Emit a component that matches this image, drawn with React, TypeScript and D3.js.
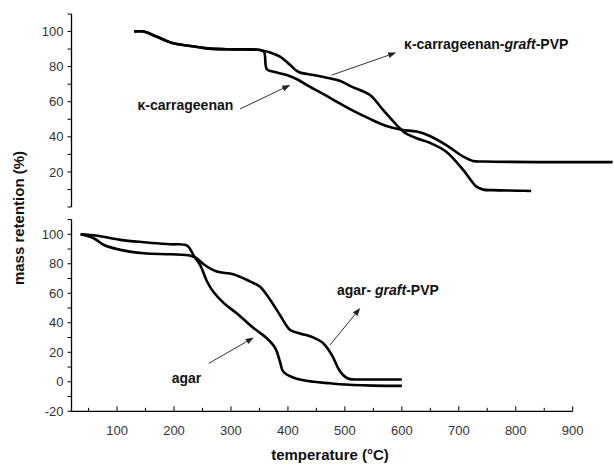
import React from "react";
import * as d3 from "d3";

// ---- Data ----
// Top panel: κ-carrageenan
const kcTemp = [130, 147, 170, 199, 229, 258, 293, 351, 358, 363, 375, 398, 416, 439, 468, 491, 509, 544, 573, 600, 626, 649, 678, 708, 725, 745, 970];
const kcVal = [100, 100, 97, 93.3, 91.8, 90.4, 89.9, 89.5, 88.5, 78.5, 77.1, 75.2, 72.8, 68.4, 63.3, 59, 55.8, 50.2, 46.2, 44, 43, 40.5, 35.3, 28.7, 26.2, 25.9, 25.6];
// Top panel: κ-carrageenan-graft-PVP
const kgTemp = [130, 147, 170, 199, 229, 258, 293, 351, 369, 386, 404, 418, 445, 468, 491, 509, 544, 567, 591, 605, 626, 649, 678, 708, 731, 743, 760, 807, 827];
const kgVal = [100, 100, 97, 93.3, 91.8, 90.4, 89.9, 89.5, 88, 85.7, 80.9, 77.1, 75.2, 73.7, 72, 69, 63.8, 55.3, 46.7, 42.4, 39.2, 36.6, 31.5, 21, 11.6, 9.9, 9.6, 9.3, 9.1];
// Bottom panel: agar
const agarTemp = [36, 65, 106, 147, 193, 223, 234, 246, 258, 269, 287, 310, 340, 363, 378, 386, 392, 410, 445, 474, 491, 550, 600];
const agarVal = [100, 99, 96.2, 94.6, 93.2, 92.3, 85.9, 79.1, 68, 61, 53.5, 46.4, 36.3, 29.5, 22.7, 13.6, 6.8, 2.8, 0, -1, -1.7, -2.6, -2.8];
// Bottom panel: agar-graft-PVP
const agTemp = [36, 59, 77, 106, 147, 194, 229, 240, 252, 275, 304, 334, 351, 369, 386, 404, 421, 445, 462, 477, 490, 500, 509, 530, 600];
const agVal = [100, 97.3, 92.7, 89.4, 87.1, 86.4, 85.5, 83.7, 79.7, 74.7, 72.9, 67.9, 64.5, 55.5, 45.3, 35.1, 32.8, 29.9, 26.1, 18.2, 8, 3.5, 1.8, 1.6, 1.6];

const xTickLabels = [100, 200, 300, 400, 500, 600, 700, 800, 900];
const topYLabels = [20, 40, 60, 80, 100];
const botYLabels = [-20, 0, 20, 40, 60, 80, 100];

const W = 614;
const H = 470;
const FONT = "'Liberation Sans', Arial, sans-serif";

type Ann = { text: string; parts?: { t: string; italic?: boolean }[]; tx: number; ty: number; ax0: number; ay0: number; ax1: number; ay1: number };

const topAnns: Ann[] = [
  { text: "κ-carrageenan", tx: 136, ty: 55.3, ax0: 316, ay0: 55.9, ax1: 404, ay1: 69.5 },
  {
    text: "κ-carrageenan-graft-PVP",
    parts: [{ t: "κ-carrageenan-" }, { t: "graft", italic: true }, { t: "-PVP" }],
    tx: 604, ty: 89.8, ax0: 477, ay0: 75.2, ax1: 590, ay1: 88,
  },
];
const botAnns: Ann[] = [
  { text: "agar", tx: 196, ty: -0.9, ax0: 261, ay0: 12.5, ax1: 340, ay1: 30 },
  {
    text: "agar- graft-PVP",
    parts: [{ t: "agar- " }, { t: "graft", italic: true }, { t: "-PVP" }],
    tx: 486, ty: 58.8, ax0: 474, ay0: 25, ax1: 527, ay1: 50,
  },
];

export default function App() {
  const x = d3.scaleLinear().domain([20, 900]).range([71.5, 572.7]);
  const yTop = d3.scaleLinear().domain([0, 110]).range([207, 14]);
  const yBot = d3.scaleLinear().domain([-20, 110]).range([411.3, 219.5]);

  const mkLine = (ys: d3.ScaleLinear<number, number>) =>
    d3
      .line<[number, number]>()
      .x((d) => x(d[0]))
      .y((d) => ys(d[1]))
      .curve(d3.curveCatmullRom.alpha(0.5));

  const zip = (a: number[], b: number[]) => a.map((v, i) => [v, b[i]] as [number, number]);

  const lineTop = mkLine(yTop);
  const lineBot = mkLine(yBot);

  const x0 = x(20);

  const renderYAxis = (ys: d3.ScaleLinear<number, number>, lo: number, hi: number, labels: number[]) => {
    const ticks = d3.range(lo, hi + 0.001, 10);
    return (
      <g>
        <line x1={x0} x2={x0} y1={ys(hi)} y2={ys(lo)} stroke="#000" strokeWidth={1.3} />
        {ticks.map((t) => (
          <line key={t} x1={x0 - 4} x2={x0} y1={ys(t)} y2={ys(t)} stroke="#000" strokeWidth={1} />
        ))}
        {labels.map((t) => (
          <text key={"l" + t} x={x0 - 8} y={ys(t)} dy="0.36em" textAnchor="end" fontSize={13} fill="#333" fontFamily={FONT}>
            {t}
          </text>
        ))}
      </g>
    );
  };

  const renderAnn = (a: Ann, ys: d3.ScaleLinear<number, number>, i: number) => {
    const X0 = x(a.ax0), Y0 = ys(a.ay0), X1 = x(a.ax1), Y1 = ys(a.ay1);
    const ang = Math.atan2(Y1 - Y0, X1 - X0);
    const L = 8, Wd = 3;
    const bx = X1 - L * Math.cos(ang), by = Y1 - L * Math.sin(ang);
    const px = -Math.sin(ang) * Wd, py = Math.cos(ang) * Wd;
    return (
      <g key={i}>
        <line x1={X0} y1={Y0} x2={bx} y2={by} stroke="#333" strokeWidth={1} />
        <path d={`M${X1},${Y1}L${bx + px},${by + py}L${bx - px},${by - py}Z`} fill="#222" />
        <text x={x(a.tx)} y={ys(a.ty)} fontSize={14} fontWeight="bold" fontFamily={FONT} fill="#111">
          {a.parts
            ? a.parts.map((p, j) => (
                <tspan key={j} fontStyle={p.italic ? "italic" : "normal"}>
                  {p.t}
                </tspan>
              ))
            : a.text}
        </text>
      </g>
    );
  };

  const xTicks = d3.range(50, 901, 50);
  const axisY = yBot(-20);

  return (
    <svg width={W} height={H} style={{ position: "absolute", left: 0, top: 0, background: "#fff" }}>
      <rect width={W} height={H} fill="#fff" />
      {/* top panel */}
      {renderYAxis(yTop, 0, 110, topYLabels)}
      <path d={lineTop(zip(kcTemp, kcVal)) || ""} fill="none" stroke="#000" strokeWidth={2.6} strokeLinejoin="round" />
      <path d={lineTop(zip(kgTemp, kgVal)) || ""} fill="none" stroke="#000" strokeWidth={2.6} strokeLinejoin="round" />
      {topAnns.map((a, i) => renderAnn(a, yTop, i))}

      {/* bottom panel */}
      {renderYAxis(yBot, -20, 110, botYLabels)}
      <line x1={x0} x2={x(900)} y1={axisY} y2={axisY} stroke="#000" strokeWidth={1.3} />
      {xTicks.map((t) => (
        <line key={t} x1={x(t)} x2={x(t)} y1={axisY} y2={axisY - (t % 100 === 0 ? 5 : 3.5)} stroke="#000" strokeWidth={1} />
      ))}
      {xTickLabels.map((t) => (
        <text key={"xl" + t} x={x(t)} y={axisY + 24} textAnchor="middle" fontSize={13} fill="#333" fontFamily={FONT}>
          {t}
        </text>
      ))}
      <path d={lineBot(zip(agarTemp, agarVal)) || ""} fill="none" stroke="#000" strokeWidth={2.6} strokeLinejoin="round" />
      <path d={lineBot(zip(agTemp, agVal)) || ""} fill="none" stroke="#000" strokeWidth={2.6} strokeLinejoin="round" />
      {botAnns.map((a, i) => renderAnn(a, yBot, i))}

      {/* axis titles */}
      <text x={330} y={460} textAnchor="middle" fontSize={15} fontWeight="bold" fontFamily={FONT} fill="#111">
        temperature (°C)
      </text>
      <text
        transform={`translate(24,218) rotate(-90)`}
        textAnchor="middle"
        fontSize={15}
        fontWeight="bold"
        fontFamily={FONT}
        fill="#111"
      >
        mass retention (%)
      </text>
    </svg>
  );
}
